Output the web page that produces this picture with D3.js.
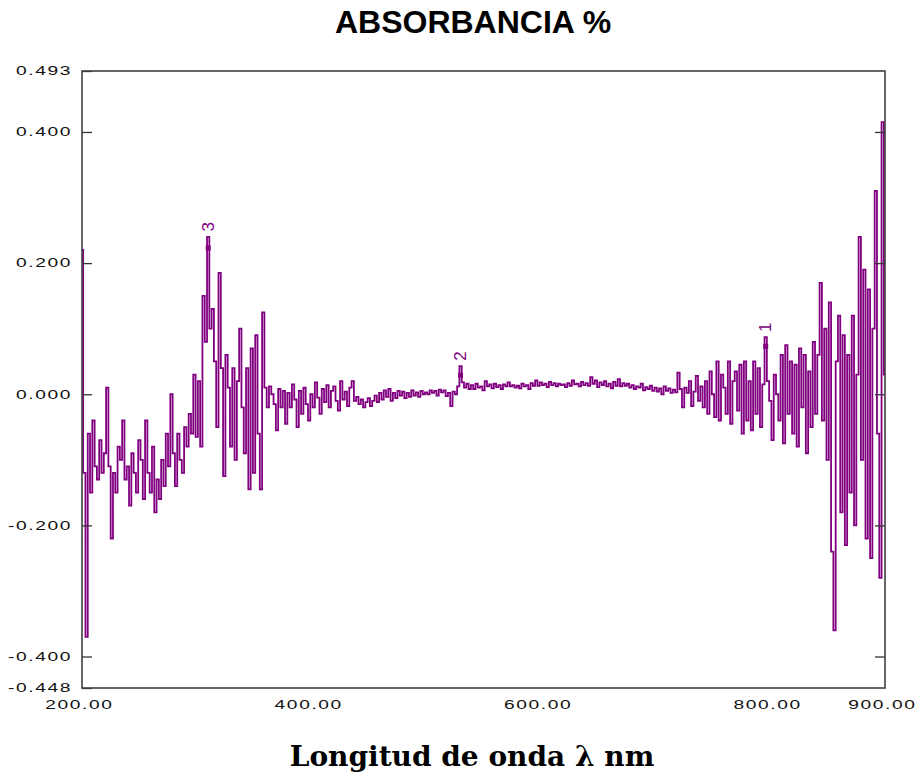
<!DOCTYPE html>
<html>
<head>
<meta charset="utf-8">
<script src="https://cdn.jsdelivr.net/npm/d3@7/dist/d3.min.js"></script>
<style>
  body { margin: 0; background: #fff; }
</style>
</head>
<body>
<div id="chart"></div>
<script>
/* global d3 */

// spectrum, 200 nm to 900 nm every 2 nm
var waveStart = 200;
var waveStep = 2;
var absorbance = [
  0.22, -0.12, -0.37, -0.06, -0.15, -0.04, -0.11, -0.13, -0.07, -0.12,       // 200
  -0.09, 0.01, -0.11, -0.22, -0.12, -0.15, -0.08, -0.10, -0.04, -0.13,       // 220
  -0.11, -0.17, -0.09, -0.12, -0.15, -0.07, -0.10, -0.16, -0.04, -0.12,      // 240
  -0.15, -0.08, -0.18, -0.13, -0.16, -0.10, -0.14, -0.06, -0.11, 0.00,       // 260
  -0.09, -0.14, -0.06, -0.10, -0.12, -0.05, -0.08, -0.03, -0.06, 0.03,       // 280
  -0.065, 0.02, -0.08, 0.15, 0.08, 0.24, 0.10, 0.13, 0.05, -0.05,            // 300
  0.185, 0.04, -0.125, 0.06, 0.01, -0.08, 0.04, -0.10, 0.02, 0.10,           // 320
  -0.02, -0.09, 0.04, -0.145, 0.07, -0.12, 0.09, -0.06, -0.145, 0.125,       // 340
  0.01, -0.02, 0.012, 0.0, -0.015, -0.055, 0.008, -0.02, 0.005, -0.045,      // 360
  0.002, -0.02, 0.015, -0.008, -0.05, 0.005, -0.03, 0.01, -0.015, -0.04,     // 380
  0.0, -0.02, 0.018, -0.005, -0.03, 0.008, -0.012, 0.014, -0.02, 0.005,      // 400
  0.012, -0.01, -0.025, 0.02, -0.008, 0.004, -0.018, 0.01, 0.02, -0.01,      // 420
  -0.004, -0.015, -0.008, -0.02, -0.012, -0.006, -0.018, -0.01, -0.002, -0.012, // 440
  0.002, -0.008, 0.006, -0.004, 0.008, -0.01, 0.002, -0.006, 0.005, -0.002,  // 460
  0.004, -0.006, 0.002, -0.004, 0.006, -0.002, 0.003, -0.004, 0.005, 0.0,    // 480
  0.003, 0.0, 0.006, 0.002, 0.005, -0.002, 0.007, 0.003, 0.006, -0.003,      // 500
  0.002, -0.018, 0.004, 0.0, 0.012, 0.043, 0.018, 0.01, 0.016, 0.008,        // 520
  0.014, 0.008, 0.016, 0.01, 0.012, 0.006, 0.02, 0.012, 0.015, 0.009,        // 540
  0.016, 0.011, 0.014, 0.008, 0.015, 0.012, 0.018, 0.012, 0.014, 0.01,       // 560
  0.013, 0.009, 0.016, 0.012, 0.014, 0.008, 0.017, 0.013, 0.021, 0.013,      // 580
  0.018, 0.014, 0.016, 0.011, 0.019, 0.014, 0.017, 0.012, 0.016, 0.014,      // 600
  0.015, 0.011, 0.017, 0.013, 0.021, 0.015, 0.016, 0.012, 0.019, 0.014,      // 620
  0.017, 0.013, 0.026, 0.016, 0.021, 0.011, 0.018, 0.014, 0.02, 0.012,       // 640
  0.016, 0.009, 0.019, 0.013, 0.023, 0.012, 0.017, 0.013, 0.016, 0.01,       // 660
  0.014, 0.008, 0.012, 0.01, 0.016, 0.006, 0.011, 0.008, 0.013, 0.005,       // 680
  0.01, 0.004, 0.009, 0.0, 0.012, 0.005, 0.009, 0.002, 0.007, 0.003,         // 700
  0.033, 0.008, -0.02, 0.01, 0.002, 0.02, -0.018, 0.004, 0.028, -0.01,      // 720
  0.012, -0.02, 0.02, -0.03, 0.035, 0.0, -0.035, 0.05, -0.04, 0.03,          // 740
  0.01, -0.03, 0.05, -0.045, 0.02, 0.035, -0.025, 0.045, -0.06, 0.05,        // 760
  -0.04, 0.02, -0.055, 0.05, -0.03, 0.04, -0.05, 0.015, 0.087, 0.02,         // 780
  -0.01, -0.07, 0.03, 0.0, -0.04, 0.06, -0.075, 0.075, -0.03, 0.05,          // 800
  -0.06, 0.045, -0.08, 0.07, -0.02, 0.06, -0.09, 0.035, -0.05, 0.08,         // 820
  -0.03, 0.06, 0.17, -0.04, 0.10, -0.10, 0.14, -0.24, -0.36, 0.05,           // 840
  0.12, -0.18, 0.09, -0.23, 0.06, -0.15, 0.12, -0.20, 0.03, 0.24,            // 860
  -0.10, 0.19, -0.22, 0.16, -0.25, 0.10, 0.31, -0.06, -0.28, 0.415,          // 880
  0.03                                                                       // 900
];

// marked peaks
var peakLabels = ['1', '2', '3'];
var peakNm = [796, 530, 310];
var peakMark = [0.073, 0.029, 0.223];
var peakTop = [0.087, 0.043, 0.24];

// axes
var xTicks = [200, 400, 600, 800, 900];
var yTicks = [0.493, 0.4, 0.2, 0, -0.2, -0.4, -0.448];
var xDomain = [200, 900];
var yDomain = [-0.448, 0.493];

var titleText = 'ABSORBANCIA %';
var xTitleText = 'Longitud de onda \u03bb nm';

var W = 917, H = 773;
var plot = { left: 82, right: 885, top: 71, bottom: 688 };
var lineColor = '#800080';
var stretch = 1.6; // the tick font is drawn wide

var x = d3.scaleLinear().domain(xDomain).range([plot.left, plot.right]);
var y = d3.scaleLinear().domain(yDomain).range([plot.bottom, plot.top]);

var svg = d3.select('#chart').append('svg')
    .attr('width', W)
    .attr('height', H)
    .style('font-family', '"Liberation Sans", Arial, sans-serif');

// title
svg.append('text')
    .attr('x', 473)
    .attr('y', 33)
    .attr('text-anchor', 'middle')
    .style('font-size', '32px')
    .style('font-weight', 'bold')
    .text(titleText);

// spectrum
var line = d3.line()
    .x(function (d, i) { return x(waveStart + i * waveStep); })
    .y(function (d) { return y(d); })
    .curve(d3.curveStep);

svg.append('path')
    .datum(absorbance)
    .attr('d', line)
    .attr('fill', 'none')
    .attr('stroke', lineColor)
    .attr('stroke-width', 1.8);

// left axis, ticks pointing inward
var yAxis = d3.axisLeft(y)
    .tickValues(yTicks)
    .tickSize(-10)
    .tickPadding(10)
    .tickFormat(function (d) { return d.toFixed(3); });

var gy = svg.append('g')
    .attr('transform', 'translate(' + plot.left + ',0)')
    .call(yAxis);
gy.select('.domain').remove();
gy.selectAll('line').attr('stroke', '#333').attr('stroke-width', 1.3);
gy.selectAll('text')
    .attr('x', -10 / stretch)
    .attr('transform', 'scale(' + stretch + ',1)')
    .style('font-size', '12px')
    .style('letter-spacing', '1px')
    .attr('fill', '#111');

// right axis, ticks only
var gyr = svg.append('g')
    .attr('transform', 'translate(' + plot.right + ',0)')
    .call(d3.axisRight(y).tickValues(yTicks.slice(1, -1)).tickSize(-10).tickFormat(''));
gyr.select('.domain').remove();
gyr.selectAll('line').attr('stroke', '#333').attr('stroke-width', 1.3);

// bottom axis, labels only
var gx = svg.append('g')
    .attr('transform', 'translate(0,' + plot.bottom + ')')
    .call(d3.axisBottom(x).tickValues(xTicks).tickSize(0).tickPadding(12)
      .tickFormat(function (d) { return d.toFixed(2); }));
gx.select('.domain').remove();
gx.selectAll('text')
    .attr('transform', 'scale(' + stretch + ',1)')
    .attr('x', -2)
    .style('font-size', '12px')
    .style('letter-spacing', '1px')
    .attr('fill', '#111');

// frame
svg.append('rect')
    .attr('x', plot.left)
    .attr('y', plot.top)
    .attr('width', plot.right - plot.left)
    .attr('height', plot.bottom - plot.top)
    .attr('fill', 'none')
    .attr('stroke', '#404040')
    .attr('stroke-width', 1.6);

// peak markers and labels
peakLabels.forEach(function (lab, i) {
  var px = x(peakNm[i]);
  svg.append('rect')
      .attr('x', px - 2.5)
      .attr('y', y(peakMark[i]) - 2.5)
      .attr('width', 5)
      .attr('height', 5)
      .attr('fill', lineColor);
  svg.append('text')
      .attr('transform', 'translate(' + px + ',' + (y(peakTop[i]) - 10) + ') rotate(-90)')
      .attr('text-anchor', 'middle')
      .attr('dominant-baseline', 'central')
      .attr('fill', lineColor)
      .style('font-size', '17px')
      .text(lab);
});

// x axis title
svg.append('text')
    .attr('x', 472)
    .attr('y', 766)
    .attr('text-anchor', 'middle')
    .style('font-family', '"DejaVu Serif", serif')
    .style('font-weight', 'bold')
    .style('font-size', '28px')
    .text(xTitleText);
</script>
</body>
</html>
